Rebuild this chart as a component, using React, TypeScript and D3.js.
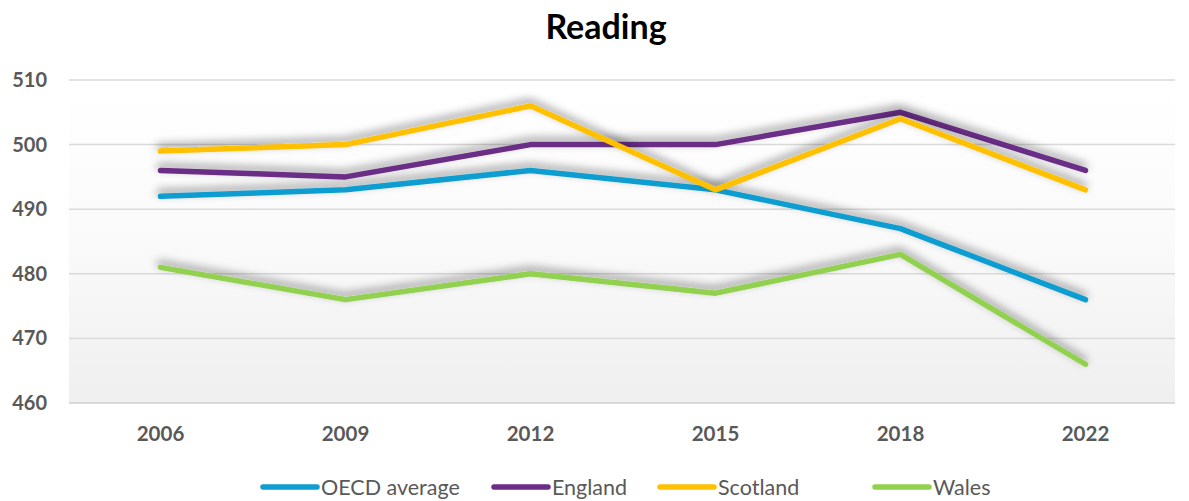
import React from "react";
import * as d3 from "d3";

const years = ["2006", "2009", "2012", "2015", "2018", "2022"];
const oecd = [492, 493, 496, 493, 487, 476];
const england = [496, 495, 500, 500, 505, 496];
const scotland = [499, 500, 506, 493, 504, 493];
const wales = [481, 476, 480, 477, 483, 466];
const yTicks = [460, 470, 480, 490, 500, 510];
const seriesNames = ["OECD average", "England", "Scotland", "Wales"];
const seriesColors = ["#109dd1", "#6b2d87", "#ffc000", "#92d050"];

const W = 1189;
const H = 501;
const FONT = "Lato, 'Open Sans', sans-serif";

export default function App() {
  const x = d3.scaleBand<string>().domain(years).range([68, 1178]);
  const y = d3.scaleLinear().domain([460, 510]).range([403, 80]);
  const series = [oecd, england, scotland, wales];
  const line = d3
    .line<number>()
    .x((_, i) => (x(years[i]) as number) + x.bandwidth() / 2)
    .y((d) => y(d));

  const legendX = [263, 494, 660, 875];

  return (
    <svg width={W} height={H} style={{ position: "absolute", left: 0, top: 0, background: "#fff" }}>
      <defs>
        <linearGradient id="bg" x1="0" y1="0" x2="0" y2="1">
          <stop offset="0" stopColor="#ffffff" />
          <stop offset="0.5" stopColor="#fafafa" />
          <stop offset="1" stopColor="#efefef" />
        </linearGradient>
        <filter id="shadow" x="-10%" y="-30%" width="120%" height="160%">
          <feDropShadow dx="-1" dy="-4" stdDeviation="4" floodColor="#000" floodOpacity="0.42" />
        </filter>
      </defs>
      <rect x={69} y={y(510)} width={1106} height={y(460) - y(510)} fill="url(#bg)" />
      {yTicks.map((t) => (
        <g key={t}>
          <line x1={69} x2={1175} y1={y(t)} y2={y(t)} stroke={t === 460 ? "#d0d0d0" : "#d9d9d9"} strokeWidth={1.5} />
          <text x={47} y={y(t)} dy="0.35em" textAnchor="end" fontFamily={FONT} fontWeight={700} fontSize={20} fill="#595959">
            {t}
          </text>
        </g>
      ))}
      {years.map((yr) => (
        <text
          key={yr}
          x={(x(yr) as number) + x.bandwidth() / 2}
          y={434}
          dy="0.35em"
          textAnchor="middle"
          fontFamily={FONT}
          fontWeight={700}
          fontSize={20.5}
          fill="#595959"
        >
          {yr}
        </text>
      ))}
      {series.map((s, i) => (
        <path
          key={i}
          d={line(s) || ""}
          fill="none"
          stroke={seriesColors[i]}
          strokeWidth={5.5}
          strokeLinecap="round"
          strokeLinejoin="round"
          filter="url(#shadow)"
        />
      ))}
      <text x={606} y={27} dy="0.35em" textAnchor="middle" fontFamily={FONT} fontWeight={700} fontSize={34} fill="#000">
        Reading
      </text>
      {seriesNames.map((n, i) => (
        <g key={n}>
          <line x1={legendX[i]} x2={legendX[i] + 54} y1={487} y2={487} stroke={seriesColors[i]} strokeWidth={5.5} strokeLinecap="round" />
          <text x={legendX[i] + 58} y={487} dy="0.35em" fontFamily={FONT} fontSize={21.5} fill="#595959">
            {n}
          </text>
        </g>
      ))}
    </svg>
  );
}
